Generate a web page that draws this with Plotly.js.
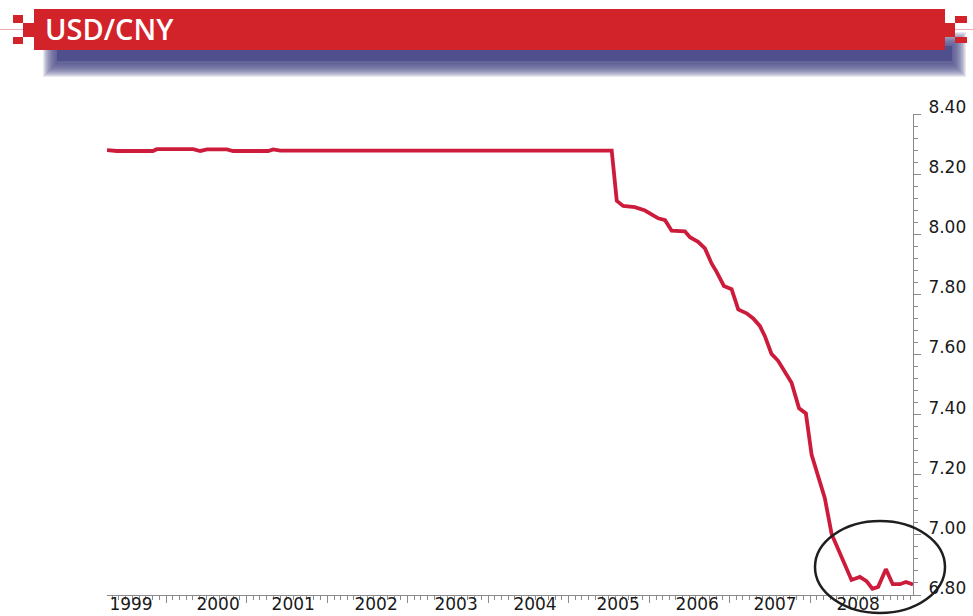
<!DOCTYPE html>
<html>
<head>
<meta charset="utf-8">
<script src="https://cdn.plot.ly/plotly-3.0.1.min.js"></script>
<style>
html,body{margin:0;padding:0;background:#fff;}
#chart{width:973px;height:616px;}
</style>
</head>
<body>
<div id="chart"></div>
<script>
// ---- data ----
const dates = [
  '1999-04-08','1999-05-23','1999-11-02','1999-11-20','2000-05-03','2000-06-04',
  '2000-07-05','2000-10-03','2000-10-31','2001-04-08','2001-05-01','2001-06-02',
  '2005-07-15','2005-08-07','2005-09-05','2005-10-28','2005-12-13','2006-02-11',
  '2006-03-14','2006-04-13','2006-06-12','2006-07-05','2006-08-11','2006-09-11',
  '2006-10-11','2006-11-03','2006-12-06','2007-01-10','2007-02-09','2007-03-19',
  '2007-04-18','2007-05-18','2007-06-10','2007-07-10','2007-08-09','2007-09-08',
  '2007-10-09','2007-11-12','2007-12-13','2008-01-08','2008-02-07','2008-03-08',
  '2008-04-08','2008-05-30','2008-07-07','2008-08-14','2008-09-13','2008-10-10',
  '2008-11-05','2008-12-10','2009-01-10','2009-02-12','2009-03-11','2009-04-12'
];
const usdcny = [
  8.280,8.277,8.277,8.283,8.283,8.277,
  8.282,8.282,8.277,8.277,8.282,8.278,
  8.278,8.111,8.094,8.090,8.079,8.053,
  8.047,8.012,8.010,7.990,7.975,7.953,
  7.903,7.875,7.828,7.817,7.750,7.737,
  7.720,7.695,7.661,7.602,7.579,7.543,
  7.506,7.421,7.404,7.266,7.199,7.122,
  7.002,6.918,6.850,6.860,6.846,6.821,
  6.827,6.886,6.836,6.836,6.843,6.835
];
const yearTickDates = ['2000-01-01','2001-01-01','2002-01-01','2003-01-01','2004-01-01',
                       '2005-01-01','2006-01-01','2007-01-01','2008-01-01'];
const yearLabelDates = ['1999-07-26','2000-08-24','2001-07-31','2002-08-11','2003-08-09',
                        '2004-08-01','2005-08-13','2006-08-07','2007-07-26','2008-08-06'];
const yearLabels = ['1999','2000','2001','2002','2003','2004','2005','2006','2007','2008'];
const yTickVals = [6.8,7.0,7.2,7.4,7.6,7.8,8.0,8.2,8.4];
const xRange = ['1999-04-08','2009-04-12'];
const yRange = [6.8,8.4];
const chartTitle = 'USD/CNY';

// ---- layout helpers (pixel -> paper) ----
const W = 973, H = 616;
const M = {l:107, r:60, t:114, b:21};
const PW = W - M.l - M.r, PH = H - M.t - M.b;
const X = px => (px - M.l) / PW;
const Y = py => (H - M.b - py) / PH;

function rect(x0,y0,x1,y1,color){
  return {type:'rect', xref:'paper', yref:'paper', x0:X(x0), x1:X(x1), y0:Y(y1), y1:Y(y0),
          fillcolor:color, line:{width:0}, layer:'above'};
}
function hline(x0,x1,y,color){
  return {type:'line', xref:'paper', yref:'paper', x0:X(x0), x1:X(x1), y0:Y(y), y1:Y(y),
          line:{color:color, width:1}, layer:'above'};
}

const shapes = [];
// soft blue shadow under the banner (stacked translucent layers)
for (let k = 14; k >= 1; k--) {
  shapes.push(rect(57-k, 46-k, 952+k, 63+k, 'rgba(74,74,138,0.13)'));
}
shapes.push(rect(57, 46, 952, 61, 'rgba(74,74,138,0.8)'));
// red banner
shapes.push(rect(34, 9, 945, 50, '#d2232a'));
// left decoration
shapes.push(hline(0, 34, 29.5, '#f2aab2'));
shapes.push(rect(13, 15, 23, 23, '#d2232a'));
shapes.push(rect(13, 37, 23, 44, '#d2232a'));
shapes.push(rect(23, 23, 34, 37, '#d2232a'));
// right decoration
shapes.push(hline(945, 973, 29.5, '#f2aab2'));
shapes.push(rect(945, 23, 955, 37, '#d2232a'));
shapes.push(rect(955, 16, 967, 23, '#d2232a'));
shapes.push(rect(955, 37, 967, 43, '#d2232a'));
// ellipse highlight
shapes.push({type:'circle', xref:'paper', yref:'paper', x0:X(815), x1:X(945), y0:Y(613), y1:Y(521),
             line:{color:'#1e1e1e', width:2.5}, fillcolor:'rgba(0,0,0,0)', layer:'above'});

const axisGrey = '#8a8a8a';
const tickFont = {family:'DejaVu Sans', size:17, color:'#1a1a1a'};

const traces = [
  {x:dates, y:usdcny, type:'scatter', mode:'lines', xaxis:'x', yaxis:'y',
   line:{color:'#cd1b3c', width:3.8}, showlegend:false, hoverinfo:'skip'},
  {x:yearLabelDates, y:yearLabelDates.map(()=>null), type:'scatter', mode:'lines',
   xaxis:'x2', yaxis:'y', showlegend:false, hoverinfo:'skip'}
];

const layout = {
  width:W, height:H,
  margin:M,
  paper_bgcolor:'#ffffff', plot_bgcolor:'#ffffff',
  showlegend:false,
  title:{text:chartTitle, xref:'container', yref:'container', x:45/W, xanchor:'left',
         y:1-30/H, yanchor:'middle',
         font:{family:'Open Sans', size:29, color:'#ffffff', weight:600}},
  xaxis:{type:'date', range:xRange, showline:true, linecolor:axisGrey, linewidth:1,
         ticks:'outside', ticklen:7, tickcolor:axisGrey, tickwidth:1,
         tickmode:'array', tickvals:yearTickDates, showticklabels:false,
         showgrid:false, zeroline:false,
         minor:{ticks:'outside', ticklen:4, tickcolor:axisGrey, tickwidth:1,
                tickmode:'linear', tick0:'1999-01-01', dtick:'M1', showgrid:false}},
  xaxis2:{type:'date', range:xRange, overlaying:'x', side:'bottom', anchor:'y',
          tickmode:'array', tickvals:yearLabelDates, ticktext:yearLabels,
          ticks:'', showline:false, showgrid:false, zeroline:false,
          tickfont:tickFont, ticklabelstandoff:-3},
  yaxis:{side:'right', range:yRange, tickmode:'array', tickvals:yTickVals, tickformat:'.2f',
         ticks:'outside', ticklen:7, tickcolor:axisGrey, tickwidth:1,
         showline:true, linecolor:axisGrey, linewidth:1,
         showgrid:false, zeroline:false,
         minor:{ticks:'outside', ticklen:4, tickcolor:axisGrey, tickwidth:1,
                tickmode:'linear', tick0:6.8, dtick:0.04, showgrid:false},
         tickfont:tickFont, ticklabelshift:-7, ticklabelstandoff:4},
  shapes:shapes
};

Plotly.newPlot('chart', traces, layout, {staticPlot:true, displayModeBar:false});
</script>
</body>
</html>
